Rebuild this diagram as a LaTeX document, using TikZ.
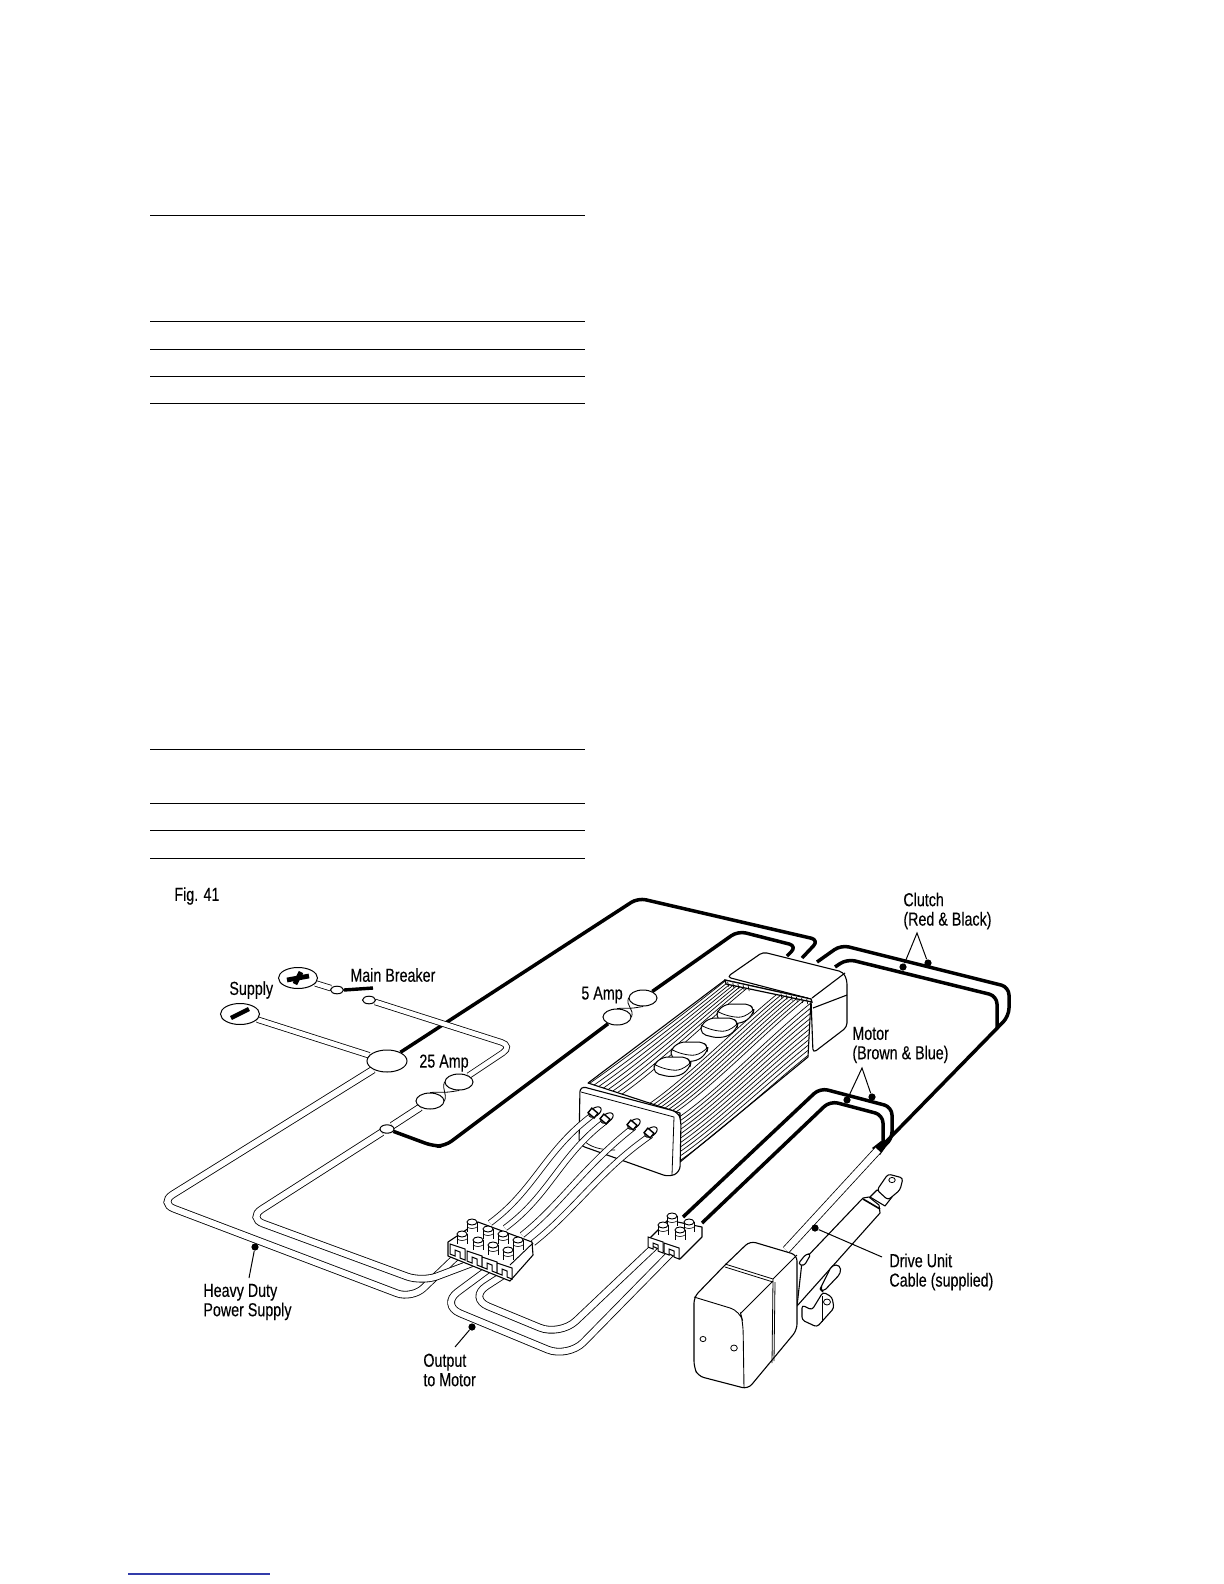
\documentclass[tikz,border=0pt]{standalone}
\usepackage{fontspec}
\setmainfont{Liberation Sans}[FakeStretch=0.76,FakeBold=0.2]
\usetikzlibrary{shapes.geometric,calc}
\pgfdeclarelayer{thicklayer}\pgfdeclarelayer{wirelayer}\pgfdeclarelayer{frontlayer}
\pgfsetlayers{thicklayer,wirelayer,main,frontlayer}
\newcommand{\tpeg}[2]{%
  \fill[white] (#1-5,#2-4) rectangle (#1+5,#2+7);
  \draw[line width=.45pt] (#1-5,#2-4) -- (#1-5,#2+6) (#1+5,#2-4) -- (#1+5,#2+6);
  \draw[line width=.45pt,fill=white] (#1,#2-4) ellipse [x radius=5,y radius=3];
  \draw[line width=.3pt] (#1-5,#2+1) .. controls (#1-2,#2+3) and (#1+2,#2+3) .. (#1+5,#2+1);}
\newcommand{\tclamp}[2]{%
  \draw[line width=.5pt,fill=white] (#1-8,#2-7) -- (#1+7,#2-2) -- (#1+7,#2+9) -- (#1+2,#2+7) -- (#1+2,#2+1) -- (#1-3,#2-1) -- (#1-3,#2+5) -- (#1-8,#2+3) -- cycle;}
\newcommand{\padbtn}[2]{%
  \begin{scope}[shift={(#1,#2)}]
  \draw[line width=.5pt,fill=white,rounded corners=2.5pt] (-18,-3) -- (-9,-10) -- (14,-10) -- (19,-5) -- (18,0) -- (10,8) -- (-2,10) -- (-18,6) -- cycle;
  \draw[line width=.4pt] (-18,-3) .. controls (-12,1) and (0,4) .. (6,3) .. controls (11,2) and (15,-1) .. (18,-4);
  \end{scope}}
\newcommand{\cabletip}[2]{%
  \draw[line width=.5pt,fill=white,rotate around={35:(#1,#2)}] (#1,#2) ellipse [x radius=7,y radius=4];
  \draw[line width=.7pt,fill=white,rotate around={-40:(#1-2,#2+1)}] (#1-6,#2-2) rectangle (#1+2,#2+4);}
\begin{document}
\begin{tikzpicture}[x=0.5pt,y=-0.5pt,
  rule/.style={line width=.45pt},
  link/.style={line width=.6pt,draw={rgb,255:red,50;green,60;blue,170}},
  hot/.style={line width=1.75pt,line join=round,rounded corners=4pt},
  wire/.style={line width=.42pt,double=white,double distance=3pt,rounded corners=8pt},
  thinwire/.style={line width=.4pt,double=white,double distance=2.4pt},
  ell/.style={ellipse,draw,fill=white,line width=.5pt,inner sep=0pt},
  bigell/.style={ell,minimum width=19.5pt,minimum height=10.5pt},
  fuse/.style={ell,minimum width=14pt,minimum height=8pt},
  tiny/.style={ell,minimum width=6.5pt,minimum height=3.8pt},
  lab/.style={anchor=west,inner sep=0pt,align=left,font=\fontsize{9.4}{9.7}\selectfont},
  lead/.style={line width=.5pt},
  dot/.style={circle,fill=black,inner sep=0pt,minimum size=3.6pt},
  body/.style={line width=.55pt,line join=round},
  rib/.style={line width=.34pt}]
\useasboundingbox (0,0) rectangle (1224,1584);

% table rules
\foreach \yy in {215,321,349,376,403,749,803,830,858}
  \draw[rule] (150,\yy) -- (585,\yy);
\draw[link] (128,1574) -- (270,1574);

% electrical nodes
\node[bigell] (plus) at (298,978) {};
\node[bigell] (minus) at (240,1014) {};
\node[tiny] (brkL) at (337,990) {};
\node[tiny] (brkR) at (369,1000) {};
\node[bigell,minimum width=20pt,minimum height=11pt] (junc) at (387,1061) {};
\node[fuse] (a25u) at (459,1082) {};
\node[fuse] (a25l) at (430,1101) {};
\node[tiny,minimum width=7pt,minimum height=4.2pt] (junc2) at (387,1129) {};
\node[fuse] (a5u) at (643,998) {};
\node[fuse] (a5l) at (617,1017) {};
\draw[line width=2.4pt] ($(plus)+(-11,2)$) -- ($(plus)+(11,-2)$) ($(plus)+(3,-6)$) -- ($(plus)+(-3,6)$);
\draw[line width=2.2pt] ($(minus)+(-9,4)$) -- ($(minus)+(9,-5)$);
\draw[line width=1.7pt] (brkL.east) -- (373,988);
\draw[line width=.4pt] (a25l.north) .. controls +(18,-1) and +(-18,3) .. (a25u.south);
\draw[line width=.4pt] (a25l.east) .. controls +(3,-8) and +(-3,8) .. (a25u.west);
\draw[line width=.4pt] (a5l.north) .. controls +(18,-1) and +(-18,3) .. (a5u.south);
\draw[line width=.4pt] (a5l.east) .. controls +(3,-8) and +(-3,8) .. (a5u.west);

% named free ends
\coordinate (ampA) at (802,958);
\coordinate (ampB) at (787,956);
\coordinate (ampC) at (817,962);
\coordinate (ampD) at (835,967);
\coordinate (merge) at (878,1150);
\coordinate (tL1) at (458,1255);
\coordinate (tL2) at (475,1262);
\coordinate (tL3) at (490,1268);
\coordinate (tL4) at (505,1274);
\coordinate (tR1) at (655,1246);
\coordinate (tR2) at (673,1251);
\coordinate (tRa) at (683,1217);
\coordinate (tRb) at (702,1223);

\begin{pgfonlayer}{thicklayer}
\draw[hot] (junc) -- (638,898) -- (819,940) -- (ampA);
\draw[hot] (junc2) -- (433,1146) -- (445,1146) -- (a5l);
\draw[hot] (a5u) -- (738,931) -- (797,946) -- (ampB);
\draw[hot] (ampC) -- (841,945) -- (1009,987) -- (1009,1016) -- (merge);
\draw[hot] (ampD) -- (847,959) -- (997,996) -- (997,1028);
\draw[hot] (tRa) -- (820,1088) -- (892,1107) -- (892,1140) -- (merge);
\draw[hot] (tRb) -- (830,1101) -- (883,1115) -- (883,1148);
\fill (872,1148) -- (881,1141) -- (888,1144) -- (880,1155) -- cycle;
\end{pgfonlayer}

\begin{pgfonlayer}{wirelayer}
\draw[thinwire] (plus) -- (brkL);
\draw[thinwire] (minus) -- (junc);
\draw[thinwire,rounded corners=6pt] (brkR) -- (513,1046) -- (a25u);
\draw[wire] (junc) -- (159,1203) -- (412,1299) -- (tL1);
\draw[wire] (a25l) -- (junc2) -- (248,1218) -- (422,1282) -- (tL2);
\draw[wire,rounded corners=11pt] (tL3) -- (440,1305) -- (568,1358) -- (tR2);
\draw[wire,rounded corners=11pt] (tL4) -- (468,1298) -- (560,1336) -- (tR1);
\end{pgfonlayer}

% amplifier ------------------------------------------------
\coordinate (FL) at (588,1083);
\coordinate (FR) at (680,1113);
\coordinate (BL) at (725,980);
\coordinate (BR) at (811,999);
\coordinate (FB) at (680,1162);
\coordinate (BB) at (808,1057);
% rear cap
\draw[body,fill=white,rounded corners=2pt] (727,977) -- (763,952) -- (843,972) -- (847,980) -- (847,1027) -- (813,1053) -- (811,999) -- cycle;
\draw[body] (812,998) -- (845,973);
\draw[body] (813,1008) -- (847,995);
% body
\draw[body,fill=white] (FL) -- (BL) -- (BR) -- (BB) -- (FB) -- (FR) -- cycle;
\foreach \t in {0.04,0.17,...,1.0}{
  \draw[rib] ($(FL)!\t*0.39!(FR)$) .. controls +(40,-28) and +(-40,32) .. ($(BL)!\t*0.31!(BR)$);
}
\foreach \t in {0.04,0.16,...,1.0}{
  \draw[rib] ($(FL)!0.66+\t*0.34!(FR)$) .. controls +(40,-28) and +(-40,32) .. ($(BL)!0.62+\t*0.38!(BR)$);
}
\foreach \t in {0.07,0.16,...,1.0}{
  \draw[rib] ($(FR)!\t!(FB)$) .. controls +(40,-28) and +(-40,32) .. ($(BR)!\t!(BB)$);
}
\draw[line width=.6pt,fill=white] (BL) -- (BR) -- ++(1,3) -- (726,984) -- cycle;
\foreach \t in {0.03,0.09,...,0.3,0.65,0.71,...,1.0}
  \draw[rib] ($(BL)!\t!(BR)+(0,1)$) -- ++(1,5);
\padbtn{735}{1014}
\padbtn{719}{1028}
\padbtn{689}{1052}
\padbtn{672}{1067}
% front plate
\draw[body,fill=white,rounded corners=3pt] (580,1086) -- (678,1112) -- (681,1120) -- (680,1172) -- (669,1177) -- (579,1145) -- cycle;
\draw[line width=.4pt] (581,1092) -- (674,1117) -- (672,1175);
\draw[line width=.35pt] (583,1140) .. controls (590,1147) and (600,1150) .. (615,1150);

\begin{pgfonlayer}{frontlayer}
% flying leads
\draw[thinwire] (490,1223) .. controls (535,1190) and (545,1150) .. (594,1114);
\draw[thinwire] (505,1228) .. controls (550,1195) and (560,1155) .. (607,1120);
\draw[thinwire] (522,1235) .. controls (560,1205) and (585,1165) .. (634,1127);
\draw[thinwire] (533,1243) .. controls (575,1210) and (600,1170) .. (651,1135);
\cabletip{595}{1112}
\cabletip{607}{1118}
\cabletip{634}{1124}
\cabletip{651}{1132}

% main terminal block
\draw[body,fill=white] (448,1242) -- (478,1222) -- (532,1242) -- (533,1255) -- (510,1281) -- (448,1256) -- cycle;
\draw[line width=.45pt] (510,1265) -- (533,1243);
\tclamp{458}{1251}
\tclamp{475}{1258}
\tclamp{490}{1264}
\tclamp{505}{1270}
\foreach \px/\py in {472/1226,488/1233,503/1238,518/1244} { \tpeg{\px}{\py} }
\foreach \px/\py in {462/1238,478/1244,493/1249,508/1254} { \tpeg{\px}{\py} }

% motor terminal block
\draw[body,fill=white] (650,1238) -- (668,1220) -- (702,1227) -- (702,1237) -- (680,1259) -- (650,1245) -- cycle;
\tclamp{656}{1244}
\tclamp{672}{1250}
\foreach \px/\py in {672/1220,689/1226} { \tpeg{\px}{\py} }
\foreach \px/\py in {663/1229,680/1234} { \tpeg{\px}{\py} }
\end{pgfonlayer}

% actuator ----------------------------------------------
% bracket
\draw[body,fill=white,rounded corners=1.5pt] (802,1305) -- (802,1320) -- (817,1327) -- (834,1308) -- (832,1297) -- (823,1292) -- (812,1310) -- cycle;
\draw[line width=.4pt,fill=white] (827,1302) circle [x radius=3.5,y radius=3];
\draw[line width=.4pt] (822,1296) -- (822,1322);
% tube and rod
\draw[body,fill=white] (877,1190) -- (870,1197) -- (885,1206) -- (892,1197) -- cycle;
\draw[body,fill=white,rounded corners=1.5pt] (877,1190) -- (888,1174) -- (903,1178) -- (900,1190) -- (888,1200) -- cycle;
\draw[line width=.4pt] (892,1180) circle [x radius=3.2,y radius=2.6];
\draw[body,fill=white] (863,1198) -- (802,1262) -- (797,1306) -- (880,1213) -- (879,1205) -- (869,1197) -- cycle;
\draw[line width=.8pt] (863,1199) -- (880,1209);
\draw[body,fill=white,rounded corners=2pt] (822,1285) -- (832,1265) -- (840,1265) -- (841,1273) -- (823,1292) -- (820,1289) -- cycle;
\draw[body,fill=white,rounded corners=1.5pt] (798,1264) -- (806,1254) -- (811,1254) -- (804,1266) -- cycle;
% drive cable
\draw[line width=.4pt,double=white,double distance=3.4pt] (merge) -- (786,1250);
% gearbox
\draw[body,fill=white,rounded corners=3pt] (694,1297) -- (725,1265) -- (750,1241) -- (797,1255) -- (797,1330) -- (748,1389) -- (698,1376) -- (694,1367) -- cycle;
\draw[line width=.4pt] (725,1264) -- (773,1279) -- (797,1255);
\draw[line width=.4pt] (725,1267) -- (773,1282);
\draw[line width=.4pt] (773,1279) -- (772,1363) (775,1282) -- (774,1361);
\draw[line width=.45pt,rounded corners=5pt] (694,1297) -- (740,1311) -- (743,1322) -- (744,1388);
\draw[line width=.4pt] (741,1313) -- (773,1281);
\draw[line width=.4pt] (703,1339) circle [x radius=3,y radius=2.6];
\draw[line width=.4pt] (734,1348) circle [x radius=3.3,y radius=3];

% labels and leaders ------------------------------------
\node[lab] (fig) at (174,896) {Fig. 41};
\node[lab] (supply) at (229,990) {Supply};
\node[lab] (mb) at (350,975) {Main Breaker};
\node[lab] (a25) at (419,1063) {25 Amp};
\node[lab] (a5) at (581,995) {5 Amp};
\node[lab] (clutch) at (903,911) {Clutch\\(Red \& Black)};
\node[lab] (motor) at (852,1045) {Motor\\(Brown \& Blue)};
\node[lab] (drive) at (889,1272) {Drive Unit\\Cable (supplied)};
\node[lab] (heavy) at (203,1302) {Heavy Duty\\Power Supply};
\node[lab] (output) at (423,1370) {Output\\to Motor};

\node[dot] (d1) at (903,967) {};
\node[dot] (d2) at (928,963) {};
\node[dot] (d3) at (847,1100) {};
\node[dot] (d4) at (872,1097) {};
\node[dot] (d5) at (255,1247) {};
\node[dot] (d6) at (472,1327) {};
\node[dot] (d7) at (815,1228) {};
\coordinate (apexC) at (917,933);
\coordinate (apexM) at (862,1068);
\draw[lead] (d1) -- (apexC) -- (d2);
\draw[lead] (d3) -- (apexM) -- (d4);
\draw[lead] (d5) -- (249,1278);
\draw[lead] (d6) -- (455,1347);
\draw[lead] (d7) -- (882,1257);
\end{tikzpicture}
\end{document}
